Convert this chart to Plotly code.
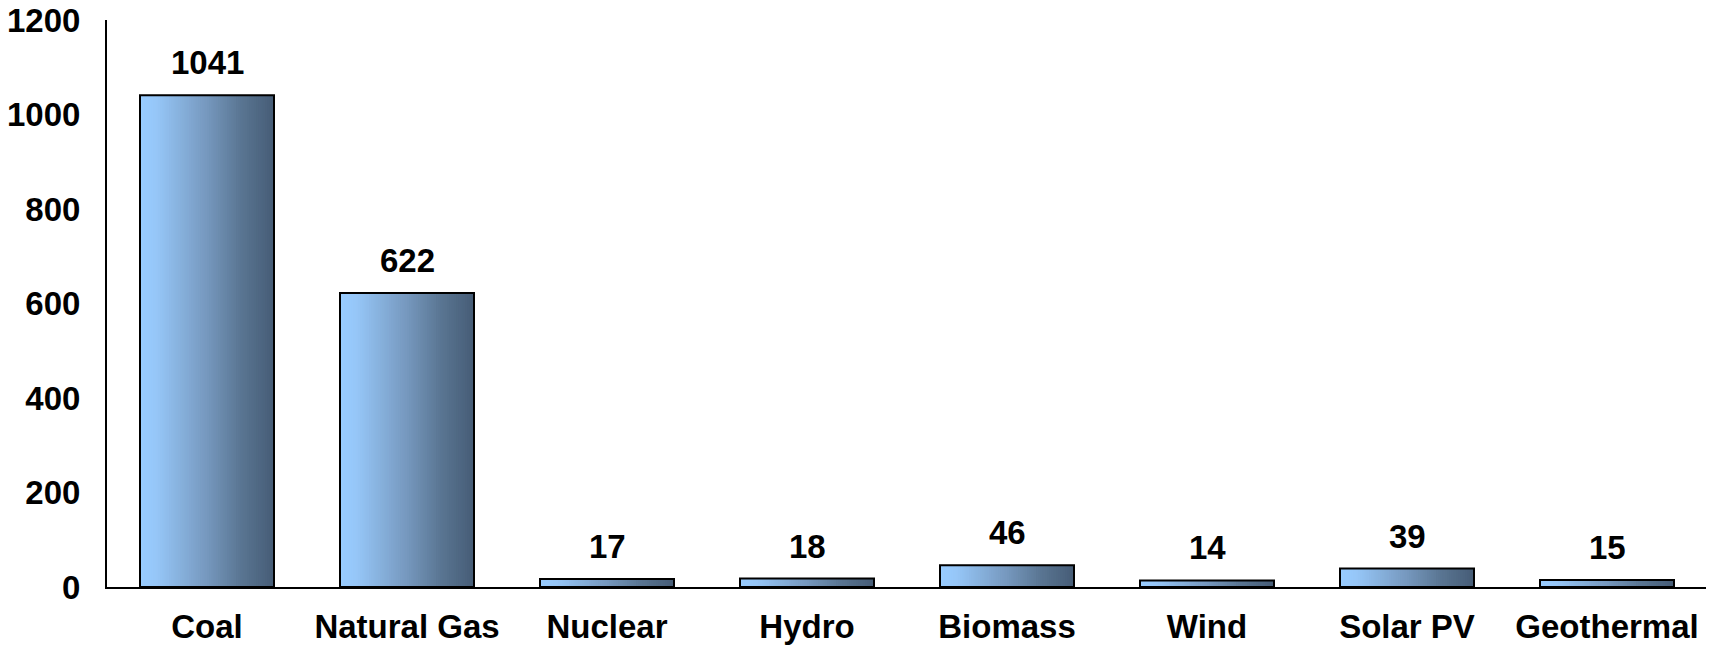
import plotly.graph_objects as go

categories = ["Coal", "Natural Gas", "Nuclear", "Hydro", "Biomass", "Wind", "Solar PV", "Geothermal"]
values = [1041, 622, 17, 18, 46, 14, 39, 15]
y_ticks = [0, 200, 400, 600, 800, 1000, 1200]

FONT = "Liberation Sans, Arial, sans-serif"
FS = 33
BAR_W = 0.67
N_SLICES = 60
stops = [(0.0, (153, 204, 255)), (0.12, (150, 199, 248)), (0.5, (118, 152, 190)),
         (0.75, (90, 118, 147)), (1.0, (70, 92, 118))]


def grad(t):
    for (t0, c0), (t1, c1) in zip(stops[:-1], stops[1:]):
        if t0 <= t <= t1:
            f = (t - t0) / (t1 - t0)
            return "rgb(%d,%d,%d)" % tuple(round(a + (b - a) * f) for a, b in zip(c0, c1))
    return "rgb(%d,%d,%d)" % stops[-1][1]


fig = go.Figure()
sw = BAR_W / N_SLICES
for i in range(N_SLICES):
    fig.add_trace(go.Bar(
        x=categories, y=values, width=BAR_W - i * sw, offset=-BAR_W / 2 + i * sw,
        marker=dict(color=grad((i + 0.5) / N_SLICES), line=dict(width=0)),
        showlegend=False, hoverinfo="skip"))

fig.add_trace(go.Bar(
    x=categories, y=values, width=BAR_W,
    marker=dict(color="rgba(0,0,0,0)", line=dict(color="black", width=2)),
    showlegend=False))

for c, v in zip(categories, values):
    fig.add_annotation(x=c, y=v, text=str(v), showarrow=False, yanchor="bottom",
                       yshift=12, font=dict(family=FONT, size=FS, color="black", weight="bold"))

fig.update_layout(
    barmode="overlay",
    width=1706, height=637,
    margin=dict(l=99, r=7, t=12, b=58, autoexpand=False),
    paper_bgcolor="white", plot_bgcolor="white",
    font=dict(family=FONT, size=FS, color="black", weight="bold"),
)
fig.update_xaxes(showline=True, linecolor="black", linewidth=2, showgrid=False,
                 ticks="", ticklabelstandoff=9, automargin=False, ticklabeloverflow="allow",
                 tickfont=dict(family=FONT, size=FS, color="black", weight="bold"))
fig.update_yaxes(range=[0, 1200], tickvals=y_ticks, showline=True, linecolor="black",
                 linewidth=2, showgrid=False, zeroline=False, ticks="", ticklabelstandoff=18,
                 automargin=False, ticklabeloverflow="allow",
                 tickfont=dict(family=FONT, size=FS, color="black", weight="bold"))

fig.write_html("out.html")
